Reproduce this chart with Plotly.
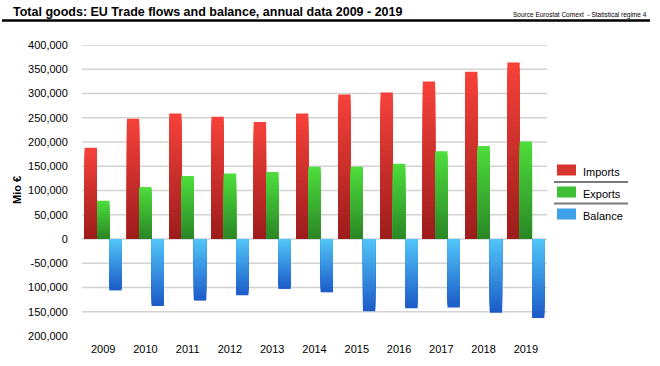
import plotly.graph_objects as go

years = ["2009", "2010", "2011", "2012", "2013", "2014", "2015", "2016", "2017", "2018", "2019"]
imports = [188000, 248000, 259000, 252000, 241000, 259000, 298000, 302000, 325000, 345000, 364000]
exports = [79000, 107000, 130000, 135000, 138000, 149000, 149000, 155000, 181000, 192000, 201000]
balance = [-106000, -138000, -127000, -116000, -103000, -110000, -149000, -143000, -141000, -152000, -163000]

tick_vals = [400000, 350000, 300000, 250000, 200000, 150000, 100000, 50000, 0,
             -50000, -100000, -150000, -200000]
tick_text = ["400,000", "350,000", "300,000", "250,000", "200,000", "150,000", "100,000",
             "50,000", "0", "-50,000", "100,000", "150,000", "200,000"]
grid_vals = [400000, 350000, 300000, 250000, 200000, 150000, 100000, 50000, 0,
             -50000, -100000, -150000]

series = [
    ("Imports", imports, (247, 66, 58), (156, 28, 28), "imp"),
    ("Exports", exports, (78, 222, 60), (42, 134, 38), "exp"),
    ("Balance", balance, (82, 198, 248), (28, 90, 200), "bal"),
]

W, H = 660, 366
L, R, T, B = 82, 113, 45, 30
PW, PH = W - L - R, H - T - B


def px(x):
    return (x - L) / PW


def py(y):
    return (H - B - y) / PH


def mix(c1, c2, t):
    return "rgb(%d,%d,%d)" % tuple(round(a + (b - a) * t) for a, b in zip(c1, c2))


fig = go.Figure()
N = 30
for name, vals, top, bottom, grp in series:
    negative = vals[0] < 0
    for k in range(N):
        frac = 1 - k / N
        tmid = frac - 0.5 / N
        if negative:
            col = mix(top, bottom, tmid)
        else:
            col = mix(bottom, top, tmid)
        fig.add_trace(go.Bar(
            x=years, y=[v * frac for v in vals], name=name, offsetgroup=grp,
            marker=dict(color=col, line=dict(width=0)),
            showlegend=False, hoverinfo="skip" if k else "x+y",
        ))

shapes = []
for g in grid_vals:
    shapes.append(dict(type="line", xref="paper", yref="y", x0=0, x1=1, y0=g, y1=g,
                       line=dict(color="#d2d2d2", width=1.5), layer="below"))

# header rule
shapes.append(dict(type="line", xref="paper", yref="paper", x0=px(2), x1=px(650),
                   y0=py(20.5), y1=py(20.5), line=dict(color="black", width=2.5)))

annotations = [
    dict(text="<b>Total goods: EU Trade flows and balance, annual data 2009 - 2019</b>",
         xref="paper", yref="paper", x=px(11), y=py(12.5), xanchor="left", yanchor="middle",
         showarrow=False, font=dict(family="Liberation Sans, Arial", size=12.5, color="black")),
    dict(text="Source Eurostat Comext  - Statistical regime 4",
         xref="paper", yref="paper", x=px(649), y=py(15), xanchor="right", yanchor="middle",
         showarrow=False, font=dict(family="Liberation Sans Narrow, Liberation Sans, Arial", size=6.5, color="black")),
    dict(text="<b>Mio €</b>", xref="paper", yref="paper", x=px(17), y=py(190),
         xanchor="center", yanchor="middle", textangle=-90, showarrow=False,
         font=dict(family="Liberation Sans, Arial", size=11, color="black")),
]

# legend
leg_y = [170, 192, 214]
for (name, vals, top, bottom, grp), yc in zip(series, leg_y):
    mid = mix(top, bottom, 0.35)
    shapes.append(dict(type="rect", xref="paper", yref="paper", x0=px(557), x1=px(576),
                       y0=py(yc - 5.5), y1=py(yc + 5.5), fillcolor=mid, line=dict(width=0)))
    annotations.append(dict(text=name, xref="paper", yref="paper", x=px(581), y=py(yc + 2),
                            xanchor="left", yanchor="middle", showarrow=False,
                            font=dict(family="Liberation Sans, Arial", size=11, color="black")))
for ys in [182, 203.5]:
    shapes.append(dict(type="line", xref="paper", yref="paper", x0=px(554), x1=px(628),
                       y0=py(ys), y1=py(ys), line=dict(color="#7a7a7a", width=2)))

fig.update_layout(
    width=W, height=H,
    margin=dict(l=L, r=R, t=T, b=B, pad=0, autoexpand=False),
    paper_bgcolor="white", plot_bgcolor="white",
    barmode="group", bargap=0.125, bargroupgap=0,
    showlegend=False,
    shapes=shapes, annotations=annotations,
    font=dict(family="Liberation Sans, Arial", size=11, color="black"),
    xaxis=dict(type="category", showgrid=False, zeroline=False, showline=False,
               automargin=False,
               ticks="outside", ticklen=3, tickcolor="rgba(0,0,0,0)",
               tickfont=dict(size=11)),
    yaxis=dict(range=[-200000, 400000], tickvals=tick_vals, ticktext=tick_text,
               showgrid=False, zeroline=False, showline=False, automargin=False,
               ticks="outside", ticklen=11, tickcolor="rgba(0,0,0,0)",
               tickfont=dict(size=11)),
)

fig.write_html("out.html", config={"displayModeBar": False},
               post_script="document.body.style.margin='0';")
